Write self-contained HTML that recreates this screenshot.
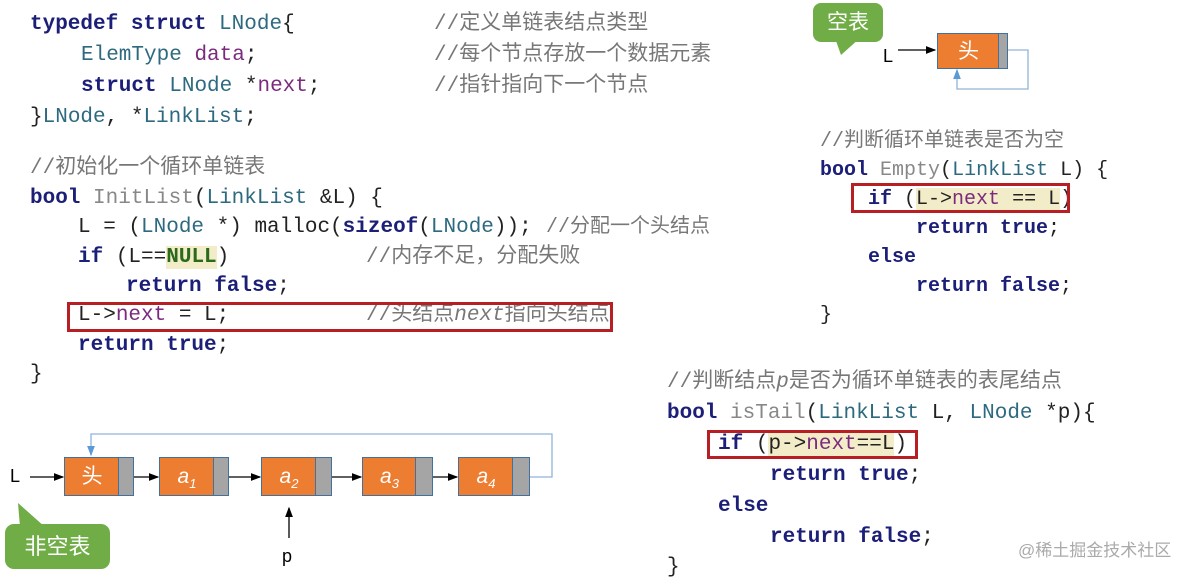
<!DOCTYPE html>
<html><head><meta charset="utf-8"><style>
body{margin:0;width:1196px;height:575px;background:#fff;position:relative;overflow:hidden;font-family:"Liberation Mono","Noto Sans CJK SC",monospace;}
.l{position:absolute;white-space:pre;font-size:21px;line-height:26px;color:#222;}
.s{font-size:20px}
.k{color:#1c1f78;font-weight:bold}
.t{color:#2d6a80}
.c{color:#777;font-family:"Liberation Mono","Noto Sans CJK SC",monospace}
.v{color:#7b2a7d}
.f{color:#888}
.h{background:#f3ecc8}
.box{position:absolute;border:3px solid #b81f24;box-sizing:border-box}
.n{position:absolute;background:#ed7d31;border:1.5px solid #41719c;box-sizing:border-box;color:#fff;font-family:"Liberation Sans","Noto Sans CJK SC",sans-serif;font-size:21px;text-align:center;font-style:italic}
.g{position:absolute;background:#a5a5a5;border:1.5px solid #41719c;box-sizing:border-box}
.lb{position:absolute;font-family:"Liberation Sans",sans-serif;font-size:18px;color:#000}
</style></head><body>
<div class="l" style="left:30px;top:12px"><span class="k">typedef struct</span> <span class="t">LNode</span>{</div>
<div class="l" style="left:81px;top:43px"><span class="t">ElemType</span> <span class="v">data</span>;</div>
<div class="l" style="left:81px;top:74px"><span class="k">struct</span> <span class="t">LNode</span> *<span class="v">next</span>;</div>
<div class="l" style="left:30px;top:105px">}<span class="t">LNode</span>, *<span class="t">LinkList</span>;</div>
<div class="l c" style="left:434px;top:12px">//定义单链表结点类型</div>
<div class="l c" style="left:434px;top:43px">//每个节点存放一个数据元素</div>
<div class="l c" style="left:434px;top:74px">//指针指向下一个节点</div>
<div class="l c" style="left:30px;top:156px">//初始化一个循环单链表</div>
<div class="l" style="left:30px;top:186px"><span class="k">bool</span> <span class="f">InitList</span>(<span class="t">LinkList</span> &amp;L) {</div>
<div class="l" style="left:78px;top:215px">L = (<span class="t">LNode</span> *) malloc(<span class="k">sizeof</span>(<span class="t">LNode</span>));</div>
<div class="l c" style="left:546px;top:215px;font-size:20px">//分配一个头结点</div>
<div class="l" style="left:78px;top:245px"><span class="k">if</span> (L==<span class="k h" style="color:#2a6a1a">NULL</span>)</div>
<div class="l c" style="left:366px;top:245px">//内存不足，分配失败</div>
<div class="l" style="left:126px;top:274px"><span class="k">return false</span>;</div>
<div class="l" style="left:78px;top:303px">L-&gt;<span class="v">next</span> = L;</div>
<div class="l c" style="left:366px;top:303px">//头结点<i>next</i>指向头结点</div>
<div class="box" style="left:67px;top:302px;width:546px;height:30px"></div>
<div class="l" style="left:78px;top:333px"><span class="k">return true</span>;</div>
<div class="l" style="left:30px;top:362px">}</div>

<div class="l s c" style="left:820px;top:129px">//判断循环单链表是否为空</div>
<div class="l s" style="left:820px;top:158px"><span class="k">bool</span> <span class="f">Empty</span>(<span class="t">LinkList</span> L) {</div>
<div class="l s" style="left:868px;top:187px"><span class="k">if</span> (<span class="h">L-&gt;<span class="v">next</span> == L</span>)</div>
<div class="box" style="left:851px;top:183px;width:219px;height:30px"></div>
<div class="l s" style="left:916px;top:216px"><span class="k">return true</span>;</div>
<div class="l s" style="left:868px;top:245px"><span class="k">else</span></div>
<div class="l s" style="left:916px;top:274px"><span class="k">return false</span>;</div>
<div class="l s" style="left:820px;top:303px">}</div>

<div class="l c" style="left:667px;top:370px">//判断结点<i>p</i>是否为循环单链表的表尾结点</div>
<div class="l" style="left:667px;top:401px"><span class="k">bool</span> <span class="f">isTail</span>(<span class="t">LinkList</span> L, <span class="t">LNode</span> *p){</div>
<div class="l" style="left:718px;top:432px"><span class="k">if</span> (<span class="h">p-&gt;<span class="v">next</span>==L</span>)</div>
<div class="box" style="left:707px;top:430px;width:211px;height:29px"></div>
<div class="l" style="left:770px;top:463px"><span class="k">return true</span>;</div>
<div class="l" style="left:718px;top:494px"><span class="k">else</span></div>
<div class="l" style="left:770px;top:525px"><span class="k">return false</span>;</div>
<div class="l" style="left:667px;top:555px">}</div>
<div style="position:absolute;left:1018px;top:536px;font-family:'Liberation Sans','Noto Sans CJK SC',sans-serif;font-size:17px;color:#aaa">@稀土掘金技术社区</div>

<svg style="position:absolute;left:0;top:0" width="1196" height="575">
<defs><marker id="a" markerWidth="8" markerHeight="8" refX="7" refY="4" orient="auto"><path d="M0,1 L8,4 L0,7z" fill="#000"/></marker>
<marker id="b" markerWidth="8" markerHeight="8" refX="7" refY="4" orient="auto"><path d="M0,1 L8,4 L0,7z" fill="#5b9bd5"/></marker></defs>
<g stroke="#000" stroke-width="1.3" fill="none" marker-end="url(#a)">
<line x1="30" y1="477" x2="63" y2="477"/><line x1="134" y1="477" x2="158" y2="477"/>
<line x1="229" y1="477" x2="260" y2="477"/><line x1="332" y1="477" x2="361" y2="477"/>
<line x1="433" y1="477" x2="457" y2="477"/><line x1="289" y1="538" x2="289" y2="508"/>
<line x1="898" y1="50" x2="935" y2="50"/></g>
<path d="M530,477 H552 V434 H91 V455" stroke="#8fb4d9" stroke-width="1.3" fill="none" marker-end="url(#b)"/>
<path d="M1007,50 H1028 V89 H957 V70" stroke="#8fb4d9" stroke-width="1.3" fill="none" marker-end="url(#b)"/>
<path d="M18,503 L45,527 L20,527z" fill="#70ad47"/>
<path d="M835,38 L841,55 L860,38z" fill="#70ad47"/>
</svg>
<div class="n" style="left:64px;top:457px;width:56px;height:39px;line-height:38px;font-style:normal">头</div><div class="g" style="left:118px;top:457px;width:16px;height:39px"></div>
<div class="n" style="left:159px;top:457px;width:56px;height:39px;line-height:38px">a<sub style="font-size:13px">1</sub></div><div class="g" style="left:213px;top:457px;width:16px;height:39px"></div>
<div class="n" style="left:261px;top:457px;width:56px;height:39px;line-height:38px">a<sub style="font-size:13px">2</sub></div><div class="g" style="left:315px;top:457px;width:17px;height:39px"></div>
<div class="n" style="left:362px;top:457px;width:55px;height:39px;line-height:38px">a<sub style="font-size:13px">3</sub></div><div class="g" style="left:415px;top:457px;width:18px;height:39px"></div>
<div class="n" style="left:458px;top:457px;width:56px;height:39px;line-height:38px">a<sub style="font-size:13px">4</sub></div><div class="g" style="left:512px;top:457px;width:18px;height:39px"></div>
<div class="lb" style="left:10px;top:466px">L</div>
<div class="lb" style="left:282px;top:546px">p</div>
<div style="position:absolute;left:5px;top:524px;width:105px;height:45px;background:#70ad47;border-radius:9px;color:#fff;font-family:'Liberation Sans','Noto Sans CJK SC',sans-serif;font-size:22px;line-height:45px;text-align:center">非空表</div>
<div style="position:absolute;left:813px;top:3px;width:70px;height:39px;background:#70ad47;border-radius:8px;color:#fff;font-family:'Liberation Sans','Noto Sans CJK SC',sans-serif;font-size:21px;line-height:39px;text-align:center">空表</div>
<div class="lb" style="left:883px;top:46px">L</div>
<div class="n" style="left:937px;top:33px;width:63px;height:36px;line-height:35px;font-style:normal">头</div><div class="g" style="left:998px;top:33px;width:10px;height:36px"></div>
</body></html>
